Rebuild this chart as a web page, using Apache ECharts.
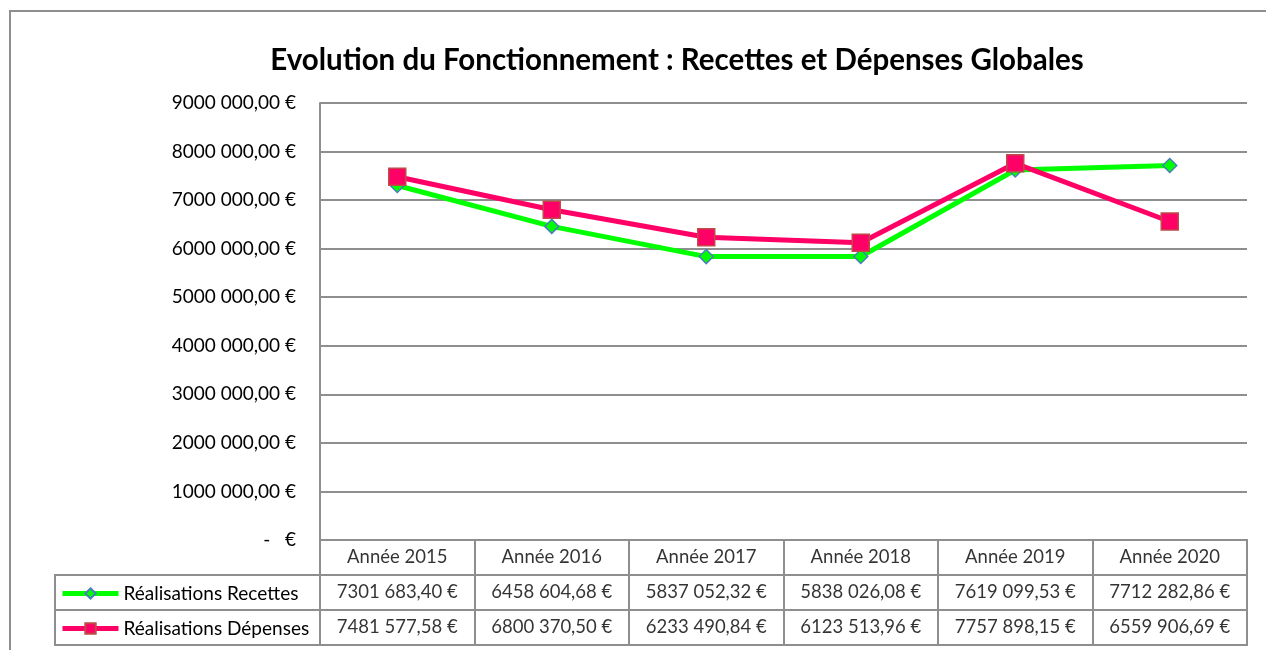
<!DOCTYPE html>
<html>
<head>
<meta charset="utf-8">
<script src="https://cdn.jsdelivr.net/npm/echarts@6/dist/echarts.min.js"></script>
<style>
    html, body { margin: 0; padding: 0; background: #fff; }
    #chart { width: 1266px; height: 650px; }
</style>
</head>
<body>
<div id="chart"></div>
<script>
// Données du graphique
var annees = ['Année 2015', 'Année 2016', 'Année 2017', 'Année 2018', 'Année 2019', 'Année 2020'];
var recettes = [7301683.40, 6458604.68, 5837052.32, 5838026.08, 7619099.53, 7712282.86];
var depenses = [7481577.58, 6800370.50, 6233490.84, 6123513.96, 7757898.15, 6559906.69];
var nomsSeries = ['Réalisations Recettes', 'Réalisations Dépenses'];
var titre = 'Evolution du Fonctionnement : Recettes et Dépenses Globales';

var police = 'Lato, "Open Sans", sans-serif';
var gris = '#8e8e8e';

// format "7301 683,40 €"
function fmtEuro(v) {
    var s = v.toFixed(2).split('.');
    var ent = s[0];
    if (ent.length > 3) {
        ent = ent.slice(0, -3) + ' ' + ent.slice(-3);
    }
    return ent + ',' + s[1] + ' €';
}

// cellules du tableau : [colonne, ligne, texte]
var cellules = [];
for (var i = 0; i < annees.length; i++) {
    cellules.push([i, 0, annees[i]]);
    cellules.push([i, 1, fmtEuro(recettes[i])]);
    cellules.push([i, 2, fmtEuro(depenses[i])]);
}

var option = {
    backgroundColor: '#fff',
    title: {
        text: titre,
        left: 672,
        top: 40,
        textAlign: 'center',
        textStyle: { fontFamily: police, fontSize: 29.5, fontWeight: 'bold', color: '#000' }
    },
    legend: {
        orient: 'vertical',
        left: 55,
        top: 579,
        itemWidth: 56,
        itemHeight: 13,
        itemGap: 16,
        data: nomsSeries,
        lineStyle: { width: 5 },
        textStyle: { fontFamily: police, fontSize: 19, color: '#000' }
    },
    graphic: [{
        type: 'rect',
        shape: { x: 10, y: 11, width: 1400, height: 800 },
        style: { fill: 'none', stroke: gris, lineWidth: 2 },
        silent: true,
        z: -10
    }],
    grid: [
        { left: 320, right: 19, top: 103, bottom: 110 },
        { left: 320, right: 19, top: 540, bottom: 5, show: true, borderColor: gris, borderWidth: 2 },
        { left: 55, width: 265, top: 575, bottom: 5, show: true, borderColor: gris, borderWidth: 2 }
    ],
    xAxis: [
        {
            type: 'category', gridIndex: 0, data: annees, boundaryGap: true,
            axisLine: { lineStyle: { color: gris, width: 2 } },
            axisTick: { show: false },
            axisLabel: { show: false }
        },
        {
            type: 'category', gridIndex: 1, data: annees, boundaryGap: true,
            axisLine: { show: false }, axisTick: { show: false }, axisLabel: { show: false },
            splitLine: { show: true, lineStyle: { color: gris, width: 2 } }
        },
        {
            type: 'value', gridIndex: 2, min: 0, max: 1, show: false
        }
    ],
    yAxis: [
        {
            type: 'value', gridIndex: 0, min: 0, max: 9000000, interval: 1000000,
            axisLine: { show: true, lineStyle: { color: gris, width: 2 } },
            axisTick: { show: false },
            splitLine: { lineStyle: { color: gris, width: 2 } },
            axisLabel: {
                margin: 24,
                fontFamily: police, fontSize: 19, color: '#000',
                formatter: function (v) { return v === 0 ? '-   €' : fmtEuro(v); }
            }
        },
        {
            type: 'category', gridIndex: 1, data: ['0', '1', '2'], inverse: true,
            axisLine: { show: false }, axisTick: { show: false }, axisLabel: { show: false },
            splitLine: { show: true, lineStyle: { color: gris, width: 2 } }
        },
        {
            type: 'category', gridIndex: 2, data: ['0', '1'], inverse: true,
            axisLine: { show: false }, axisTick: { show: false }, axisLabel: { show: false },
            splitLine: { show: true, lineStyle: { color: gris, width: 2 } }
        }
    ],
    series: [
        {
            name: nomsSeries[0],
            type: 'line',
            data: recettes,
            symbol: 'diamond',
            symbolSize: 14,
            lineStyle: { color: '#00ff00', width: 5 },
            itemStyle: { color: '#00ff00', borderColor: '#4a7ebb', borderWidth: 1.5 },
            z: 3
        },
        {
            name: nomsSeries[1],
            type: 'line',
            data: depenses,
            symbol: 'rect',
            symbolSize: 17,
            lineStyle: { color: '#ff0066', width: 5 },
            itemStyle: { color: '#ff0066', borderColor: '#be4b48', borderWidth: 1.5 },
            z: 4
        },
        {
            type: 'scatter',
            xAxisIndex: 1,
            yAxisIndex: 1,
            data: cellules,
            symbolSize: 0,
            silent: true,
            label: {
                show: true,
                position: 'inside',
                fontFamily: police,
                fontSize: 18.5,
                color: '#000',
                formatter: function (p) { return p.data[2]; }
            }
        }
    ]
};

echarts.init(document.getElementById('chart')).setOption(option);
</script>
</body>
</html>
